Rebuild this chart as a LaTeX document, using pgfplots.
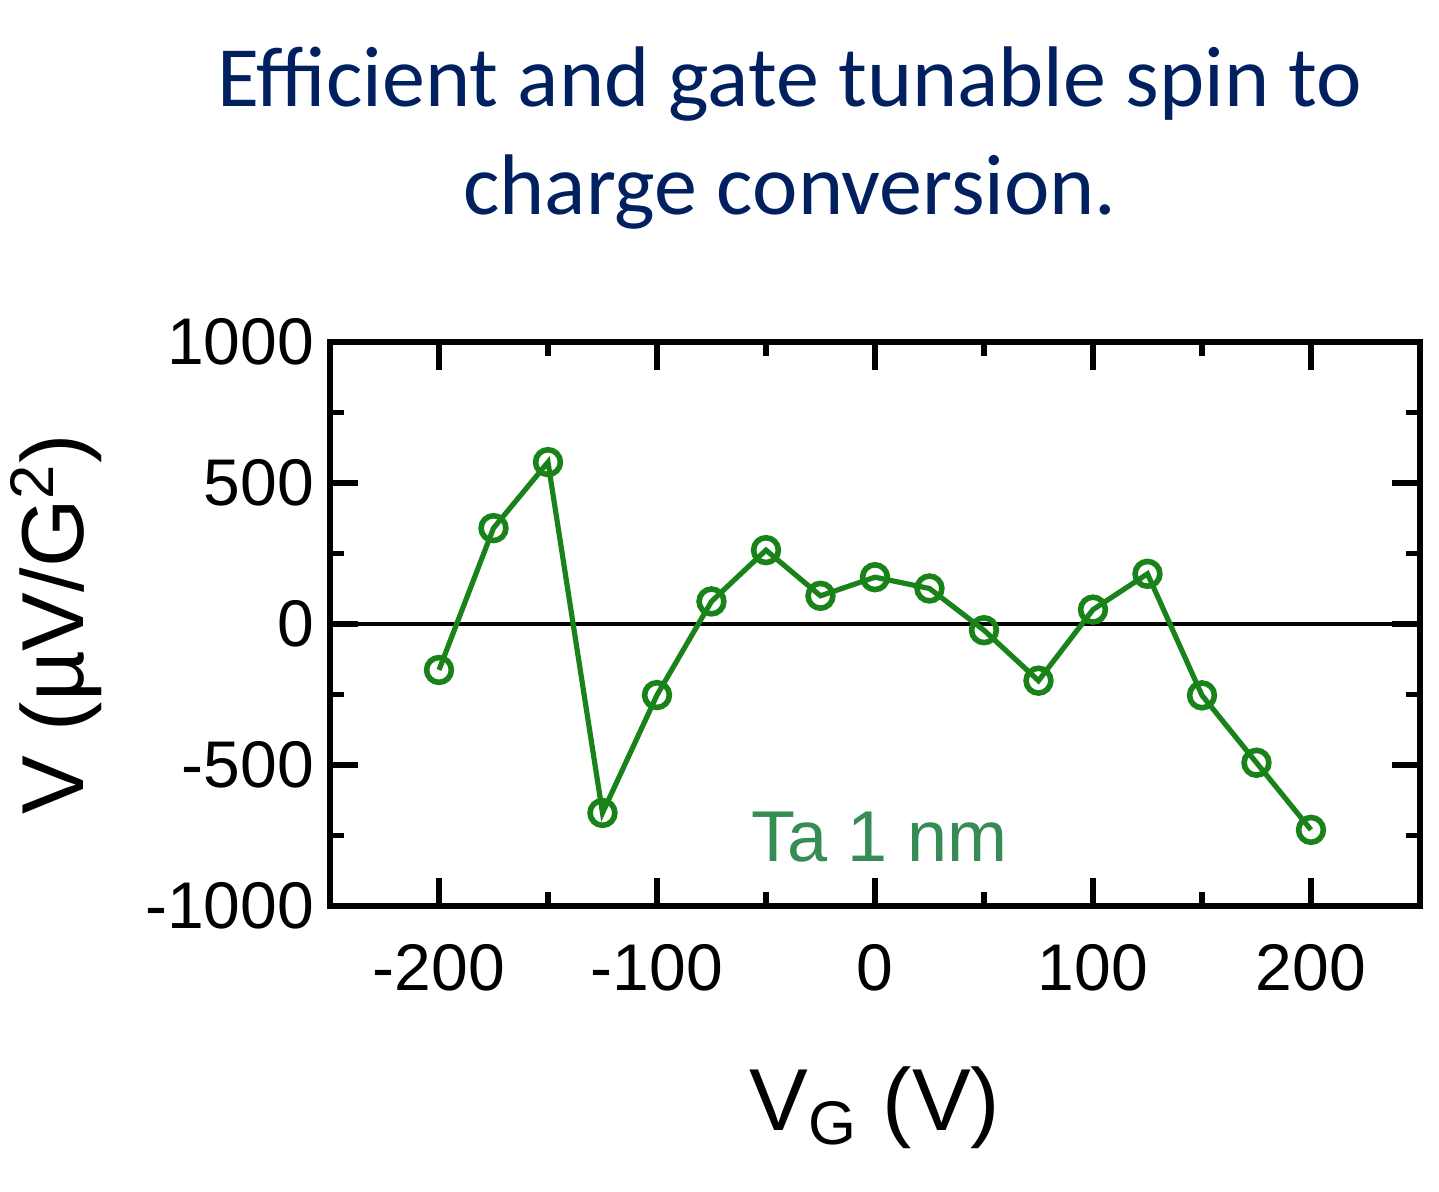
\documentclass[border=0pt]{standalone}
\usepackage{fontspec}
\setmainfont{Liberation Sans}
\newfontfamily\titlefont{Carlito}
\usepackage{pgfplots}
\pgfplotsset{compat=1.18}
\definecolor{navy}{RGB}{0,32,96}
\definecolor{lgreen}{RGB}{25,130,25}
\definecolor{tgreen}{RGB}{55,140,85}
\begin{document}
\begin{tikzpicture}
\useasboundingbox (-82.5pt,-71.5pt) rectangle (277.25pt,226.5pt);
\begin{axis}[
  at={(0,0)}, anchor=south west,
  scale only axis,
  width=272.5pt, height=141pt,
  xmin=-250, xmax=250, ymin=-1000, ymax=1000,
  xtick={-200,-100,0,100,200},
  minor xtick={-250,-150,-50,50,150,250},
  ytick={-1000,-500,0,500,1000},
  minor ytick={-750,-250,250,750},
  tick align=inside,
  major tick length=7pt, minor tick length=3.5pt,
  every tick/.style={black, line width=1.3pt},
  axis line style={line width=1.3pt},
  /pgf/number format/assume math mode=true,
  /pgf/number format/1000 sep={},
  ticklabel style={font=\fontsize{16.5}{19}\selectfont},
  xticklabel style={yshift=-6pt},
  yticklabel style={xshift=-0.5pt},
  xlabel={V\textsubscript{G} (V)},
  ylabel={V (µV/G\textsuperscript{2})},
  label style={font=\fontsize{22}{25}\selectfont},
  xlabel style={yshift=-12pt},
  ylabel style={yshift=4pt},
  clip=false,
]
\addplot[black, line width=1pt, forget plot] coordinates {(-250,0) (250,0)};
\addplot[lgreen, line width=1.3pt, mark=o, mark size=3.1pt, mark options={line width=1.4pt, fill=white}] coordinates {
(-200,-163) (-175,340) (-150,574) (-125,-670) (-100,-252) (-75,80) (-50,262)
(-25,100) (0,166) (25,126) (50,-22) (75,-201) (100,51) (125,178)
(150,-253) (175,-492) (200,-730)
};
\node[tgreen, font=\fontsize{18}{20}\selectfont] at (axis cs:2,-755) {Ta 1 nm};
\end{axis}
\node[navy, align=center, font=\titlefont\fontsize{21.5}{27}\selectfont] at (115pt,192pt) {Efficient and gate tunable spin to\\charge conversion.};
\end{tikzpicture}
\end{document}
